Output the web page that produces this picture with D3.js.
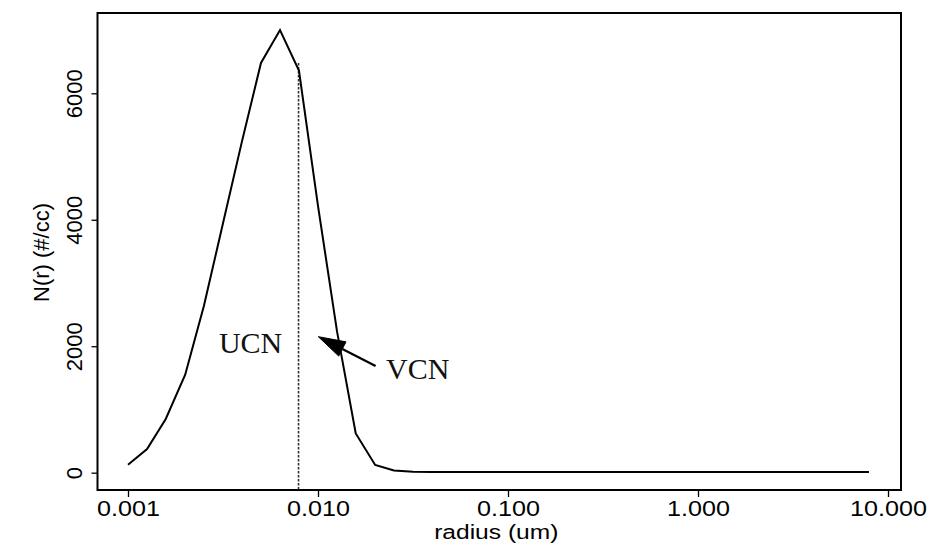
<!DOCTYPE html>
<html>
<head>
<meta charset="utf-8">
<script src="https://cdn.jsdelivr.net/npm/d3@7"></script>
<style>
  html, body { margin: 0; padding: 0; background: #fff; }
  svg { display: block; }
</style>
</head>
<body>
<svg id="chart" width="937" height="548"></svg>
<script>
// ---- data ----
const radius = [0.001, 0.00126, 0.00158, 0.002, 0.00251, 0.00316, 0.00398, 0.00501, 0.00631, 0.00794,
                0.01, 0.0126, 0.0158, 0.02, 0.0251, 0.0316, 0.0398, 0.0501, 0.0631, 0.0794,
                0.1, 0.126, 0.158, 0.2, 0.251, 0.316, 0.398, 0.501, 0.631, 0.794,
                1.0, 1.26, 1.58, 2.0, 2.51, 3.16, 3.98, 5.01, 6.31, 7.94];
const counts = [125, 375, 850, 1550, 2640, 3940, 5240, 6480, 7000, 6360,
                4220, 2230, 620, 122, 35, 15, 12, 10, 10, 10,
                10, 10, 10, 10, 10, 10, 10, 10, 10, 10,
                10, 10, 10, 10, 10, 10, 10, 10, 10, 10];
const xTicks = [0.001, 0.01, 0.1, 1, 10];
const xTickLabels = ["0.001", "0.010", "0.100", "1.000", "10.000"];
const yTicks = [0, 2000, 4000, 6000];
const yTickLabels = ["0", "2000", "4000", "6000"];
const cutoffRadius = 0.0079;   // dotted UCN/VCN boundary
const cutoffTop = 6480;
const ucnLabel = {text: "UCN", r: 0.00301, v: 1893};
const vcnLabel = {text: "VCN", r: 0.0228, v: 1480};
const arrowFrom = {r: 0.0201, v: 1687};
const arrowTo = {r: 0.01004, v: 2151};
const xTitle = "radius (um)";
const yTitle = "N(r) (#/cc)";

// ---- layout ----
const L = 97.5, R = 901, T = 13, B = 490;
const svg = d3.select("#chart");

const x = d3.scaleLog().domain([Math.pow(10, -3.1605), Math.pow(10, 1.0684)]).range([L, R]);
const y = d3.scaleLinear().domain([-274, 7270]).range([B, T]);

const sans = "'Liberation Sans', Arial, Helvetica, sans-serif";
const serif = "'Liberation Serif', 'Times New Roman', serif";
const stretch = 1.17;

// x axis
const xAxis = svg.append("g")
  .attr("transform", `translate(0,${B})`)
  .call(d3.axisBottom(x).tickValues(xTicks).tickFormat((d, i) => xTickLabels[i]).tickSize(7).tickSizeOuter(0));
xAxis.select(".domain").remove();
xAxis.selectAll(".tick line").attr("stroke", "#000").attr("stroke-width", 1.3);
xAxis.selectAll(".tick text")
  .attr("y", 26)
  .attr("dy", null)
  .attr("transform", `scale(${stretch},1)`)
  .attr("font-family", sans).attr("font-size", 21.5).attr("fill", "#000");

// y axis
const yAxis = svg.append("g")
  .attr("transform", `translate(${L},0)`)
  .call(d3.axisLeft(y).tickValues(yTicks).tickFormat((d, i) => yTickLabels[i]).tickSize(6).tickSizeOuter(0));
yAxis.select(".domain").remove();
yAxis.selectAll(".tick line").attr("stroke", "#000").attr("stroke-width", 1.3);
yAxis.selectAll(".tick text")
  .attr("x", null).attr("y", null).attr("dy", null)
  .attr("text-anchor", "middle")
  .attr("transform", "translate(-16,0) rotate(-90)")
  .attr("font-family", sans).attr("font-size", 22).attr("fill", "#000");

// frame
svg.append("rect")
  .attr("x", L).attr("y", T).attr("width", R - L).attr("height", B - T)
  .attr("fill", "none").attr("stroke", "#000").attr("stroke-width", 2);

// dotted cutoff line
svg.append("line")
  .attr("x1", x(cutoffRadius)).attr("x2", x(cutoffRadius))
  .attr("y1", y(cutoffTop)).attr("y2", B)
  .attr("stroke", "#333").attr("stroke-width", 1.6)
  .attr("stroke-dasharray", "2.5,1.5");

// curve
const pts = radius.map((r, i) => [r, counts[i]]);
svg.append("path")
  .datum(pts)
  .attr("fill", "none").attr("stroke", "#000").attr("stroke-width", 2)
  .attr("stroke-linejoin", "miter")
  .attr("d", d3.line().x(d => x(d[0])).y(d => y(d[1])));

// labels
svg.append("text").attr("x", x(ucnLabel.r)).attr("y", y(ucnLabel.v))
  .attr("font-family", serif).attr("font-size", 30).attr("fill", "#111").text(ucnLabel.text);
svg.append("text").attr("x", x(vcnLabel.r)).attr("y", y(vcnLabel.v))
  .attr("font-family", serif).attr("font-size", 30).attr("fill", "#111").text(vcnLabel.text);

// arrow
const ax0 = x(arrowFrom.r), ay0 = y(arrowFrom.v), ax1 = x(arrowTo.r), ay1 = y(arrowTo.v);
const ang = Math.atan2(ay1 - ay0, ax1 - ax0);
const headLen = 27, headHalf = 8;
const bx = ax1 - headLen * Math.cos(ang), by = ay1 - headLen * Math.sin(ang);
svg.append("line")
  .attr("x1", ax0).attr("y1", ay0).attr("x2", bx).attr("y2", by)
  .attr("stroke", "#000").attr("stroke-width", 2.2);
svg.append("path")
  .attr("d", d3.line()([
    [ax1, ay1],
    [bx + headHalf * Math.sin(ang), by - headHalf * Math.cos(ang)],
    [bx - headHalf * Math.sin(ang), by + headHalf * Math.cos(ang)]
  ]) + "Z")
  .attr("fill", "#000").attr("stroke", "#000").attr("stroke-width", 1);

// axis titles
svg.append("text")
  .attr("transform", `translate(${(L + R) / 2 - 3},${539}) scale(${stretch},1)`)
  .attr("text-anchor", "middle")
  .attr("font-family", sans).attr("font-size", 21).attr("fill", "#000")
  .text(xTitle);
svg.append("text")
  .attr("transform", `translate(49,${(T + B) / 2 + 1}) rotate(-90)`)
  .attr("text-anchor", "middle")
  .attr("font-family", sans).attr("font-size", 22).attr("fill", "#000")
  .text(yTitle);
</script>
</body>
</html>
